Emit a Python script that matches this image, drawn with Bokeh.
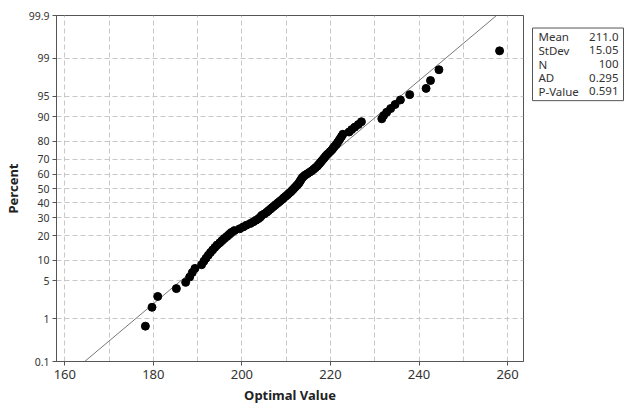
from statistics import NormalDist
from bokeh.plotting import figure
from bokeh.layouts import row
from bokeh.models import Range1d, FixedTicker, CustomJSTickFormatter, ColumnDataSource
from bokeh.core.properties import value
from bokeh.embed import file_html
from bokeh.resources import INLINE

# ---- data ----
optimal_value = [
    178.2, 179.7, 181.0, 185.2, 187.3, 188.2, 188.8, 189.4, 190.9, 191.4,
    191.9, 192.4, 192.9, 193.4, 193.9, 194.4, 195.0, 195.5, 196.0, 196.6,
    197.1, 197.6, 198.3, 199.5, 200.3, 201.0, 201.9, 202.6, 203.2, 203.8,
    204.2, 204.5, 205.1, 205.6, 206.0, 206.4, 206.8, 207.2, 207.6, 208.0,
    208.4, 208.8, 209.2, 209.5, 209.9, 210.3, 210.6, 211.0, 211.3, 211.6,
    211.9, 212.2, 212.5, 212.8, 213.0, 213.2, 213.4, 213.6, 213.9, 214.3,
    214.8, 215.3, 215.8, 216.2, 216.6, 217.0, 217.3, 217.6, 217.9, 218.2,
    218.5, 218.8, 219.1, 219.5, 219.9, 220.3, 220.6, 220.9, 221.3, 221.6,
    221.9, 222.2, 222.5, 222.8, 224.2, 224.8, 225.5, 226.3, 227.0, 231.6,
    232.0, 232.7, 233.6, 234.6, 235.8, 237.9, 241.6, 242.6, 244.5, 258.2,
]
fit_mean = 211.0
fit_stdev = 15.05
stat_names = ["Mean", "StDev", "N", "AD", "P-Value"]
stat_values = ["211.0", "15.05", "100", "0.295", "0.591"]
percent_ticks = [0.1, 1, 5, 10, 20, 30, 40, 50, 60, 70, 80, 90, 95, 99, 99.9]
percent_labels = ["0.1", "1", "5", "10", "20", "30", "40", "50", "60", "70", "80", "90", "95", "99", "99.9"]
x_label_ticks = [160, 180, 200, 220, 240, 260]
x_grid_ticks = [160, 170, 180, 190, 200, 210, 220, 230, 240, 250, 260]

nd = NormalDist()
n = len(optimal_value)
xs = sorted(optimal_value)
zs = [nd.inv_cdf((i - 0.3) / (n + 0.4)) for i in range(1, n + 1)]
tick_z = [nd.inv_cdf(p / 100.0) for p in percent_ticks]
zlo, zhi = tick_z[0], tick_z[-1]

FONT = "Noto Sans"

p = figure(frame_width=467, frame_height=346, output_backend="svg", toolbar_location=None,
           x_range=Range1d(158.13, 263.6), y_range=Range1d(zlo, zhi),
           min_border_left=56, min_border_right=8, min_border_top=15, min_border_bottom=43,
           background_fill_color="white", border_fill_color="white")
p.outline_line_color = "#555555"
p.outline_line_width = 1

# grids
p.xgrid.ticker = FixedTicker(ticks=x_grid_ticks)
p.ygrid.ticker = FixedTicker(ticks=tick_z)
for g in (p.xgrid, p.ygrid):
    g.grid_line_color = "#c8c8c8"
    g.grid_line_dash = "5 3"
    g.grid_line_width = 1

# axes
p.xaxis.ticker = FixedTicker(ticks=x_label_ticks)
p.yaxis.ticker = FixedTicker(ticks=tick_z)
p.yaxis.formatter = CustomJSTickFormatter(args=dict(z=tick_z, lab=percent_labels), code="""
let best = 0, bd = 1e9;
for (let i = 0; i < z.length; i++) { const d = Math.abs(z[i] - tick); if (d < bd) { bd = d; best = i; } }
return lab[best];
""")
for ax in (p.xaxis, p.yaxis):
    ax.axis_line_color = "#555555"
    ax.major_tick_line_color = "#555555"
    ax.major_tick_out = 4
    ax.major_tick_in = 0
    ax.minor_tick_line_color = None
    ax.major_label_text_font = FONT
    ax.major_label_text_color = "#333333"
    ax.axis_label_text_font = FONT
    ax.axis_label_text_font_style = "bold"
    ax.axis_label_text_color = "#222222"
    ax.axis_label_text_font_size = "13px"
p.xaxis.major_label_text_font_size = "13px"
p.yaxis.major_label_text_font_size = "10.5px"
p.xaxis.axis_label = "Optimal Value"
p.yaxis.axis_label = "Percent"
p.xaxis.major_label_standoff = 4
p.xaxis.axis_label_standoff = 4
p.yaxis.major_label_standoff = 3
p.yaxis.axis_label_standoff = 4

# fitted line
p.line([fit_mean + fit_stdev * zlo, fit_mean + fit_stdev * zhi], [zlo, zhi],
       line_color="#777777", line_width=1)
# points
p.scatter(xs, zs, size=8, marker="circle", fill_color="black", line_color="black")

# ---- stats box ----
W2, H2 = 93, 404
q = figure(width=W2, height=H2, output_backend="svg", toolbar_location=None,
           x_range=Range1d(0, W2), y_range=Range1d(H2, 0),
           min_border=0, background_fill_color="white", border_fill_color="white")
q.axis.visible = False
q.grid.visible = False
q.outline_line_color = None
q.quad(left=[1], right=[W2 - 1], top=[14.7], bottom=[100], fill_color="white",
       line_color="#555555", line_width=1)
row_y = [25 + 16 * i for i in range(len(stat_names))]
src = ColumnDataSource(dict(y=row_y, names=stat_names, vals=stat_values))
q.text(x=7, y="y", text="names", source=src, text_font=value(FONT), text_font_size="11.5px",
       text_color="#333333", text_baseline="middle", text_align="left")
q.text(x=W2 - 6, y="y", text="vals", source=src, text_font=value(FONT), text_font_size="11.5px",
       text_color="#333333", text_baseline="middle", text_align="right")

layout = row(p, q)
open("out.html", "w").write(file_html(layout, INLINE))
